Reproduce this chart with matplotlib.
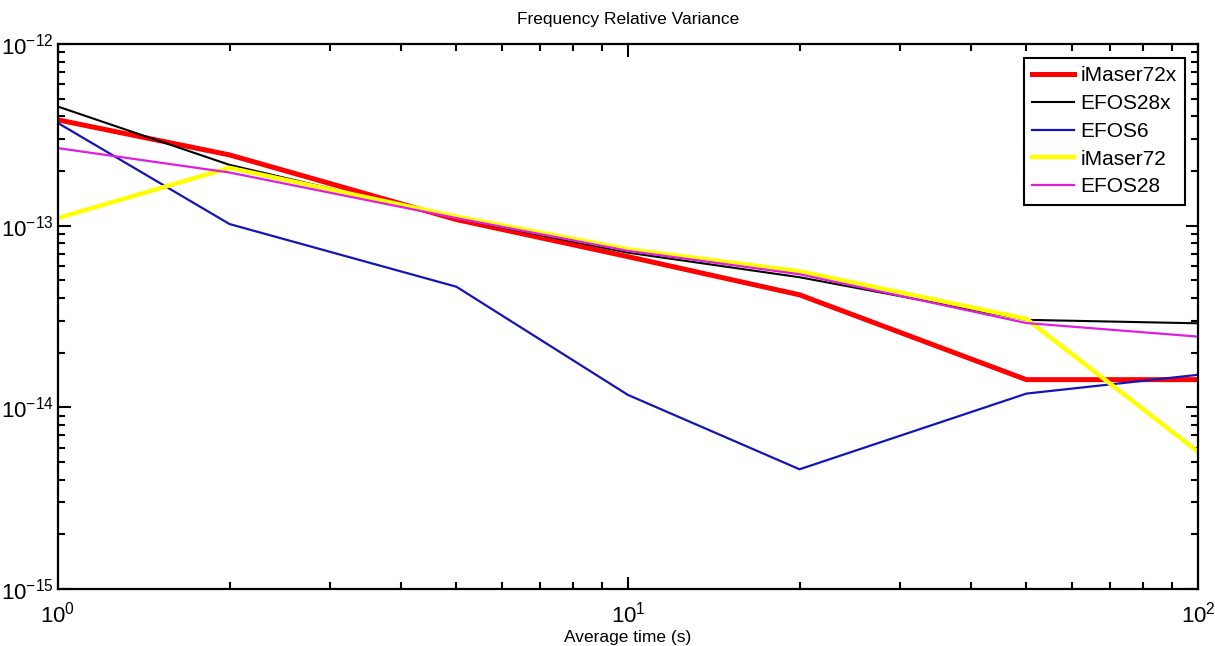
import matplotlib
matplotlib.use("Agg")
import matplotlib.pyplot as plt
from matplotlib.ticker import LogLocator, NullFormatter, FixedLocator

plt.rcParams['font.family'] = ['Liberation Sans', 'DejaVu Sans']
plt.rcParams['mathtext.default'] = 'regular'
plt.rcParams['axes.unicode_minus'] = False

tau = [1, 2, 5, 10, 20, 50, 100]
imaser72x = [3.82e-13, 2.45e-13, 1.08e-13, 6.75e-14, 4.16e-14, 1.42e-14, 1.42e-14]
efos28x = [4.52e-13, 2.16e-13, 1.10e-13, 7.10e-14, 5.20e-14, 3.03e-14, 2.90e-14]
efos6 = [3.67e-13, 1.02e-13, 4.61e-14, 1.17e-14, 4.56e-15, 1.19e-14, 1.51e-14]
imaser72 = [1.10e-13, 2.08e-13, 1.12e-13, 7.41e-14, 5.60e-14, 3.07e-14, 5.70e-15]
efos28 = [2.67e-13, 1.96e-13, 1.10e-13, 7.26e-14, 5.40e-14, 2.91e-14, 2.45e-14]
labels = ['iMaser72x', 'EFOS28x', 'EFOS6', 'iMaser72', 'EFOS28']
x_major = [1, 10, 100]
y_major = [1e-15, 1e-14, 1e-13, 1e-12]

fig = plt.figure(figsize=(12.15, 6.46), dpi=100)
ax = fig.add_axes([0.0477, 0.0882, 0.9383, 0.8438])

ax.plot(tau, imaser72x, color='#ff0000', lw=3.6, label=labels[0])
ax.plot(tau, efos28x, color='#000000', lw=1.5, label=labels[1])
ax.plot(tau, efos6, color='#1414b8', lw=1.6, label=labels[2])
ax.plot(tau, imaser72, color='#ffff00', lw=3.2, label=labels[3])
ax.plot(tau, efos28, color='#e01ee0', lw=1.6, label=labels[4])

ax.set_xscale('log')
ax.set_yscale('log')
ax.set_xlim(1, 100)
ax.set_ylim(1e-15, 1e-12)

ax.xaxis.set_major_locator(FixedLocator(x_major))
ax.yaxis.set_major_locator(FixedLocator(y_major))
ax.xaxis.set_minor_locator(LogLocator(base=10, subs=range(2, 10), numticks=20))
ax.yaxis.set_minor_locator(LogLocator(base=10, subs=range(2, 10), numticks=20))
ax.xaxis.set_minor_formatter(NullFormatter())
ax.yaxis.set_minor_formatter(NullFormatter())

ax.tick_params(which='both', direction='in', top=True, right=True, width=1.5,
               labelsize=16)
ax.tick_params(which='major', length=9)
ax.tick_params(which='minor', length=5)
ax.tick_params(axis='x', pad=9)
ax.tick_params(axis='y', pad=3)
for s in ax.spines.values():
    s.set_linewidth(1.6)

ax.set_title('Frequency Relative Variance', fontsize=12.5, pad=14)
ax.set_xlabel('Average time (s)', fontsize=12.5, labelpad=2)

leg = ax.legend(loc='upper right', fontsize=15, handlelength=2.0,
                handletextpad=0.3, labelspacing=0.42, borderpad=0.4,
                borderaxespad=0, fancybox=False, framealpha=1,
                bbox_to_anchor=(0.9886, 0.974))
leg.get_frame().set_edgecolor('black')
leg.get_frame().set_linewidth(1.5)

fig.savefig('out.png', dpi=100)
